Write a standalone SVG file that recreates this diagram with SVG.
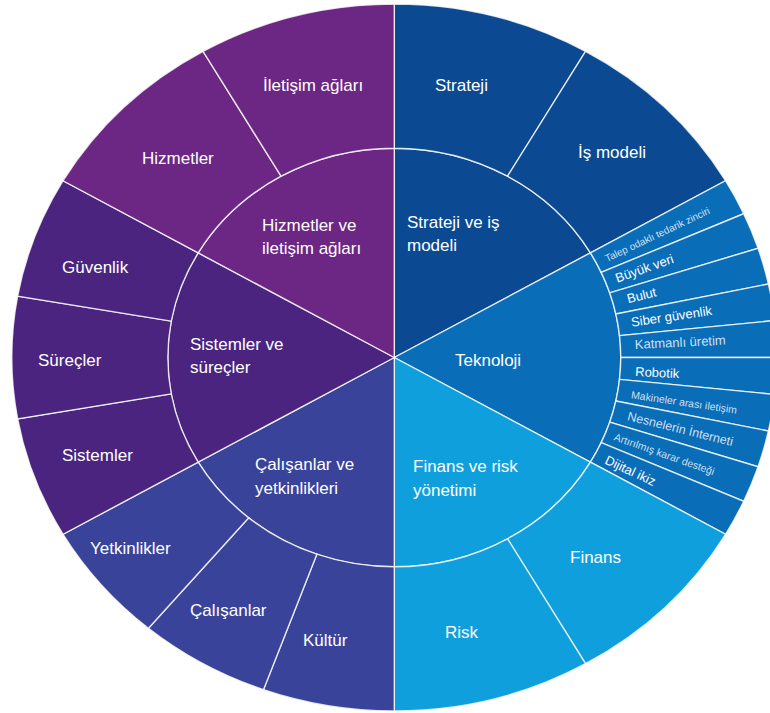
<svg xmlns="http://www.w3.org/2000/svg" width="770" height="713" viewBox="0 0 770 713">
<style>
.s{stroke:#fff;stroke-width:1.4;stroke-opacity:.8;vector-effect:non-scaling-stroke}
.c1{fill:#0b4a92}.c2{fill:#0a6db7}.c3{fill:#109fdd}.c4{fill:#394399}.c5{fill:#4a247f}.c6{fill:#6c2784}
text{font-family:"Liberation Sans",Arial,sans-serif;fill:#fff}
.L{font-size:17px}
.t{font-size:13px}
.f{fill-opacity:.8}
</style>
<rect width="770" height="713" fill="#fff"/>
<g id="shapes" transform="translate(394.3 357.5) scale(1.082 1)">
<g id="strateji-ring"><path class="s c1" d="M0,0 L0,-209.3 A209.3 209.3 0 0 1 181.26,-104.65 Z"/></g>
<g id="teknoloji-ring"><path class="s c2" d="M0,0 L181.26,-104.65 A209.3 209.3 0 0 1 181.26,104.65 Z"/></g>
<g id="finans-ring"><path class="s c3" d="M0,0 L181.26,104.65 A209.3 209.3 0 0 1 0,209.3 Z"/></g>
<g id="calisanlar-ring"><path class="s c4" d="M0,0 L0,209.3 A209.3 209.3 0 0 1 -181.26,104.65 Z"/></g>
<g id="sistemler-ring"><path class="s c5" d="M0,0 L-181.26,104.65 A209.3 209.3 0 0 1 -181.26,-104.65 Z"/></g>
<g id="hizmetler-ring"><path class="s c6" d="M0,0 L-181.26,-104.65 A209.3 209.3 0 0 1 0,-209.3 Z"/></g>

<g id="o-strateji"><path class="s c1" d="M0,-209.3 L0,-353.5 A353.5 353.5 0 0 1 176.75,-306.14 L104.65,-181.26 A209.3 209.3 0 0 0 0,-209.3 Z"/></g>
<g id="o-ismodeli"><path class="s c1" d="M104.65,-181.26 L176.75,-306.14 A353.5 353.5 0 0 1 306.14,-176.75 L181.26,-104.65 A209.3 209.3 0 0 0 104.65,-181.26 Z"/></g>
<g id="o-t1"><path class="s c2" d="M181.26,-104.65 L306.14,-176.75 A353.5 353.5 0 0 1 322.93,-143.77 L191.2,-85.12 A209.3 209.3 0 0 0 181.26,-104.65 Z"/></g>
<g id="o-t2"><path class="s c2" d="M191.2,-85.12 L322.93,-143.77 A353.5 353.5 0 0 1 336.21,-109.23 L199.06,-64.67 A209.3 209.3 0 0 0 191.2,-85.12 Z"/></g>
<g id="o-t3"><path class="s c2" d="M199.06,-64.67 L336.21,-109.23 A353.5 353.5 0 0 1 345.76,-73.49 L204.72,-43.51 A209.3 209.3 0 0 0 199.06,-64.67 Z"/></g>
<g id="o-t4"><path class="s c2" d="M204.72,-43.51 L345.76,-73.49 A353.5 353.5 0 0 1 351.56,-36.94 L208.15,-21.87 A209.3 209.3 0 0 0 204.72,-43.51 Z"/></g>
<g id="o-t5"><path class="s c2" d="M208.15,-21.87 L351.56,-36.94 A353.5 353.5 0 0 1 353.5,0 L209.3,0 A209.3 209.3 0 0 0 208.15,-21.87 Z"/></g>
<g id="o-t6"><path class="s c2" d="M209.3,0 L353.5,0 A353.5 353.5 0 0 1 351.56,36.94 L208.15,21.87 A209.3 209.3 0 0 0 209.3,0 Z"/></g>
<g id="o-t7"><path class="s c2" d="M208.15,21.87 L351.56,36.94 A353.5 353.5 0 0 1 345.76,73.49 L204.72,43.51 A209.3 209.3 0 0 0 208.15,21.87 Z"/></g>
<g id="o-t8"><path class="s c2" d="M204.72,43.51 L345.76,73.49 A353.5 353.5 0 0 1 336.21,109.23 L199.06,64.67 A209.3 209.3 0 0 0 204.72,43.51 Z"/></g>
<g id="o-t9"><path class="s c2" d="M199.06,64.67 L336.21,109.23 A353.5 353.5 0 0 1 322.93,143.77 L191.2,85.12 A209.3 209.3 0 0 0 199.06,64.67 Z"/></g>
<g id="o-t10"><path class="s c2" d="M191.2,85.12 L322.93,143.77 A353.5 353.5 0 0 1 306.14,176.75 L181.26,104.65 A209.3 209.3 0 0 0 191.2,85.12 Z"/></g>
<g id="o-finans"><path class="s c3" d="M181.26,104.65 L306.14,176.75 A353.5 353.5 0 0 1 176.75,306.14 L104.65,181.26 A209.3 209.3 0 0 0 181.26,104.65 Z"/></g>
<g id="o-risk"><path class="s c3" d="M104.65,181.26 L176.75,306.14 A353.5 353.5 0 0 1 0,353.5 L0,209.3 A209.3 209.3 0 0 0 104.65,181.26 Z"/></g>
<g id="o-kultur"><path class="s c4" d="M0,209.3 L0,353.5 A353.5 353.5 0 0 1 -120.9,332.18 L-71.58,196.68 A209.3 209.3 0 0 0 0,209.3 Z"/></g>
<g id="o-calisanlar"><path class="s c4" d="M-71.58,196.68 L-120.9,332.18 A353.5 353.5 0 0 1 -227.23,270.78 L-134.54,160.33 A209.3 209.3 0 0 0 -71.58,196.68 Z"/></g>
<g id="o-yetkinlikler"><path class="s c4" d="M-134.54,160.33 L-227.23,270.78 A353.5 353.5 0 0 1 -306.14,176.75 L-181.26,104.65 A209.3 209.3 0 0 0 -134.54,160.33 Z"/></g>
<g id="o-sistemler"><path class="s c5" d="M-181.26,104.65 L-306.14,176.75 A353.5 353.5 0 0 1 -348.13,61.37 L-206.12,36.34 A209.3 209.3 0 0 0 -181.26,104.65 Z"/></g>
<g id="o-surecler"><path class="s c5" d="M-206.12,36.34 L-348.13,61.37 A353.5 353.5 0 0 1 -348.13,-61.37 L-206.12,-36.34 A209.3 209.3 0 0 0 -206.12,36.34 Z"/></g>
<g id="o-guvenlik"><path class="s c5" d="M-206.12,-36.34 L-348.13,-61.37 A353.5 353.5 0 0 1 -306.14,-176.75 L-181.26,-104.65 A209.3 209.3 0 0 0 -206.12,-36.34 Z"/></g>
<g id="o-hizmetler"><path class="s c6" d="M-181.26,-104.65 L-306.14,-176.75 A353.5 353.5 0 0 1 -176.75,-306.14 L-104.65,-181.26 A209.3 209.3 0 0 0 -181.26,-104.65 Z"/></g>
<g id="o-iletisim"><path class="s c6" d="M-104.65,-181.26 L-176.75,-306.14 A353.5 353.5 0 0 1 0,-353.5 L0,-209.3 A209.3 209.3 0 0 0 -104.65,-181.26 Z"/></g>
</g>
<g id="connectors"></g>
<g id="labels">
<text class="L" x="407" y="228">Strateji ve iş</text>
<text class="L" x="407" y="251">modeli</text>
<text class="L" x="455" y="366">Teknoloji</text>
<text class="L" x="413" y="472">Finans ve risk</text>
<text class="L" x="413" y="496">yönetimi</text>
<text class="L" x="255" y="470">Çalışanlar ve</text>
<text class="L" x="255" y="494">yetkinlikleri</text>
<text class="L" x="190" y="350">Sistemler ve</text>
<text class="L" x="190" y="373">süreçler</text>
<text class="L" x="262" y="231">Hizmetler ve</text>
<text class="L" x="262" y="254">iletişim ağları</text>

<text class="L" x="435" y="91">Strateji</text>
<text class="L" x="578" y="158">İş modeli</text>
<text class="L" x="263" y="91">İletişim ağları</text>
<text class="L" x="142" y="164">Hizmetler</text>
<text class="L" x="62" y="273">Güvenlik</text>
<text class="L" x="38" y="366">Süreçler</text>
<text class="L" x="62" y="461">Sistemler</text>
<text class="L" x="90" y="554">Yetkinlikler</text>
<text class="L" x="190" y="616">Çalışanlar</text>
<text class="L" x="303" y="646">Kültür</text>
<text class="L" x="445" y="638">Risk</text>
<text class="L" x="570" y="563">Finans</text>

<text class="f" font-size="10" transform="translate(607 262) rotate(-25.2)">Talep odaklı tedarik zinciri</text>
<text class="t" transform="translate(617.3 282.7) rotate(-19.5)">Büyük veri</text>
<text class="t" transform="translate(628.3 303.3) rotate(-13.9)">Bulut</text>
<text class="t" transform="translate(631.7 326.7) rotate(-8.3)">Siber güvenlik</text>
<text class="t f" transform="translate(635 349) rotate(-2.8)">Katmanlı üretim</text>
<text class="t" transform="translate(635 376) rotate(2.8)">Robotik</text>
<text class="f" font-size="10.5" transform="translate(630.7 398.3) rotate(8.3)">Makineler arası iletişim</text>
<text class="f" font-size="12.5" transform="translate(626.7 420) rotate(13.9)">Nesnelerin İnterneti</text>
<text class="f" font-size="10.5" transform="translate(613.3 440) rotate(19.5)">Artırılmış karar desteği</text>
<text class="t" transform="translate(604 463.3) rotate(25.2)">Dijital ikiz</text>
</g>
</svg>
